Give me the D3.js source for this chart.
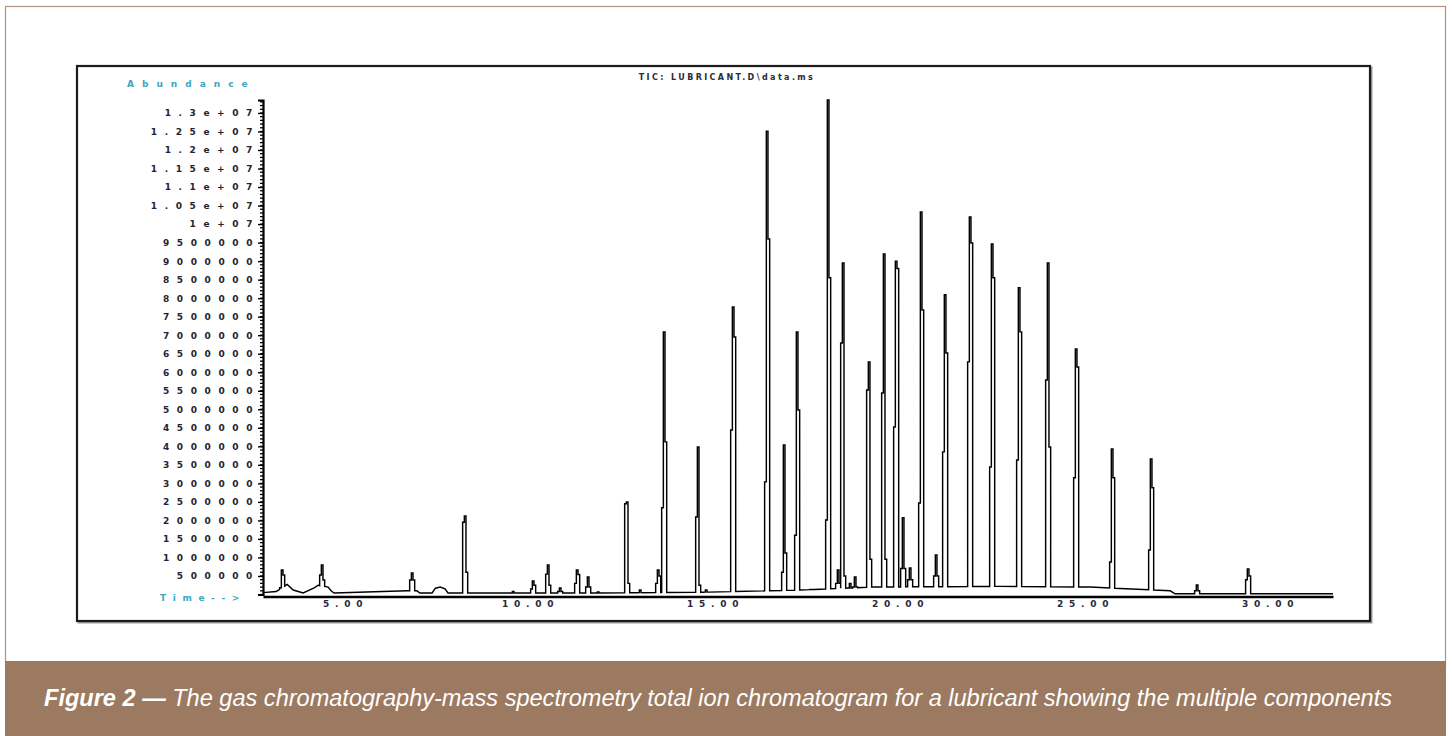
<!DOCTYPE html>
<html>
<head>
<meta charset="utf-8">
<script src="https://cdn.jsdelivr.net/npm/d3@7"></script>
<style>
  html, body { margin: 0; padding: 0; background: #ffffff; }
  svg { display: block; }
</style>
</head>
<body>
<svg id="chart" width="1452" height="736"></svg>
<script>
// ---------------- DATA ----------------
// Retention time (min) of each chromatographic peak
const peakTime = [3.378, 4.459, 6.892, 8.324, 9.622, 10.162, 10.568, 10.892, 11.351, 11.649,
  11.919, 12.703, 13.054, 13.541, 13.703, 14.622, 14.838, 15.568, 16.486, 16.946,
  17.297, 17.703, 18.135, 18.405, 18.541, 18.73, 18.865, 19.243, 19.649, 19.973,
  20.162, 20.351, 20.649, 21.054, 21.297, 21.973, 22.568, 23.297, 24.081, 24.838,
  25.811, 26.865, 28.108, 29.486];
// Apex abundance of each peak
const peakApex = [661000, 797000, 580000, 2120000, 80000, 365000, 797000, 175000, 661000, 472000,
  67000, 2500000, 120000, 660000, 7090000, 3980000, 120000, 7760000, 12510000, 4040000,
  7090000, 120000, 13350000, 660000, 8950000, 300000, 470000, 6280000, 9190000, 9000000,
  2070000, 715000, 10330000, 1070000, 8090000, 10190000, 9460000, 8280000, 8950000, 6630000,
  3930000, 3660000, 257000, 690000];
// Abundance of the scan just before the apex
const peakLeft = [150000, 527000, 390000, 1950000, 40000, 150000, 550000, 80000, 300000, 200000,
  30000, 2450000, 50000, 300000, 2340000, 2090000, 50000, 4440000, 3040000, 600000,
  1600000, 60000, 2010000, 300000, 6790000, 150000, 200000, 5520000, 5440000, 4520000,
  700000, 400000, 2470000, 500000, 3850000, 6280000, 3440000, 3630000, 5790000, 3150000,
  880000, 1200000, 100000, 400000];
// Abundance of the scan just after the apex
const peakRight = [527000, 392000, 390000, 600000, 40000, 250000, 250000, 80000, 540000, 200000,
  30000, 300000, 50000, 500000, 4120000, 250000, 50000, 6950000, 9600000, 1120000,
  4980000, 60000, 8550000, 300000, 500000, 150000, 200000, 950000, 950000, 8800000,
  700000, 400000, 7680000, 500000, 6520000, 9490000, 8550000, 7090000, 3980000, 6140000,
  3150000, 2880000, 100000, 500000];

// Baseline (including tailing of early peaks and small humps)
const baseTime  = [2.86, 3.216, 3.514, 3.676, 3.946, 4.243, 4.35, 4.62, 4.70, 4.78,
  6.76, 7.02, 7.10, 7.43, 7.52, 7.65, 7.78, 7.86, 11.97, 14.68,
  17.38, 19.27, 22.78, 25.22, 27.38, 27.51, 31.78];
const baseLevel = [50000, 80000, 270000, 120000, 40000, 180000, 250000, 200000, 100000, 40000,
  100000, 100000, 40000, 40000, 170000, 200000, 150000, 40000, 40000, 60000,
  120000, 200000, 220000, 200000, 100000, 20000, 20000];

// Axis ticks and labels
const yTickValues = [500000, 1000000, 1500000, 2000000, 2500000, 3000000, 3500000, 4000000,
  4500000, 5000000, 5500000, 6000000, 6500000, 7000000, 7500000, 8000000, 8500000, 9000000,
  9500000, 10000000, 10500000, 11000000, 11500000, 12000000, 12500000, 13000000];
const yTickLabels = ["500000", "1000000", "1500000", "2000000", "2500000", "3000000", "3500000", "4000000",
  "4500000", "5000000", "5500000", "6000000", "6500000", "7000000", "7500000", "8000000", "8500000", "9000000",
  "9500000", "1e+07", "1.05e+07", "1.1e+07", "1.15e+07", "1.2e+07", "1.25e+07", "1.3e+07"];
const xTickValues = [5, 10, 15, 20, 25, 30];
const xTickLabels = ["5.00", "10.00", "15.00", "20.00", "25.00", "30.00"];

const chartTitle = "TIC: LUBRICANT.D\\data.ms";
const yAxisTitle = "Abundance";
const xAxisTitle = "Time-->";
const captionBold = "Figure 2 \u2014";
const captionText = " The gas chromatography-mass spectrometry total ion chromatogram for a lubricant showing the multiple components";

// ---------------- DRAWING ----------------
const svg = d3.select("#chart");

// outer frame
svg.append("rect").attr("x", 5.5).attr("y", 6.5).attr("width", 1440).attr("height", 660)
  .attr("fill", "#ffffff").attr("stroke", "#b4937e").attr("stroke-width", 1.2);
// caption band
svg.append("rect").attr("x", 5).attr("y", 661).attr("width", 1441).attr("height", 75)
  .attr("fill", "#9c7a61");

// inner box with slight shadow
svg.append("rect").attr("x", 78.5).attr("y", 67.5).attr("width", 1293).attr("height", 555)
  .attr("fill", "none").attr("stroke", "#9a9a9a").attr("stroke-width", 2);
svg.append("rect").attr("x", 77).attr("y", 66).attr("width", 1293).attr("height", 555)
  .attr("fill", "#ffffff").attr("stroke", "#1c1c1c").attr("stroke-width", 2.2);

const x = d3.scaleLinear().domain([2.86, 31.78]).range([263, 1333]);
const y = d3.scaleLinear().domain([0, 13350000]).range([594.5, 100]);
const base = d3.scaleLinear().domain(baseTime).range(baseLevel).clamp(true);

// build trace (each peak drawn as scan steps: outer edges and a narrow apex scan)
const halfBase = 0.068, halfApex = 0.022;
const groups = [];
baseTime.forEach((t, i) => {
  const inside = peakTime.some(p => Math.abs(p - t) < halfBase * 1.1);
  if (!inside) groups.push({ t: t, pts: [[t, baseLevel[i]]] });
});
peakTime.forEach((tp, i) => {
  const b = base(tp);
  const hl = Math.max(b, peakLeft[i]), hr = Math.max(b, peakRight[i]), ha = Math.max(b, peakApex[i]);
  groups.push({ t: tp, pts: [
    [tp - halfBase, base(tp - halfBase)], [tp - halfBase, hl], [tp - halfApex, hl], [tp - halfApex, ha],
    [tp + halfApex, ha], [tp + halfApex, hr], [tp + halfBase, hr], [tp + halfBase, base(tp + halfBase)]
  ]});
});
groups.sort((a, b) => a.t - b.t);
const trace = groups.flatMap(g => g.pts);

const line = d3.line().x(d => x(d[0])).y(d => y(d[1]));

// y axis (major)
const yAxis = d3.axisLeft(y).tickValues(yTickValues)
  .tickFormat((d, i) => yTickLabels[i]).tickSize(5).tickPadding(6);
const gy = svg.append("g").attr("transform", "translate(263,0)").call(yAxis);
gy.select(".domain").attr("stroke", "#000").attr("stroke-width", 2.2);
gy.selectAll(".tick line").attr("stroke", "#000").attr("stroke-width", 1.4);
gy.selectAll(".tick text")
  .attr("font-family", "DejaVu Sans, sans-serif").attr("font-size", 9).attr("font-weight", "bold")
  .attr("letter-spacing", 7.6).attr("x", -3).attr("fill", "#23232f");
// minor ticks
const minor = d3.range(0, 13350001, 100000);
svg.append("g").selectAll("line").data(minor).join("line")
  .attr("x1", 260).attr("x2", 263).attr("y1", d => y(d)).attr("y2", d => y(d))
  .attr("stroke", "#000").attr("stroke-width", 1.3);

// x axis
const xAxis = d3.axisBottom(x).tickValues(xTickValues)
  .tickFormat((d, i) => xTickLabels[i]).tickSize(0).tickPadding(4);
const gx = svg.append("g").attr("transform", "translate(0,596.5)").call(xAxis);
gx.select(".domain").attr("stroke", "#000").attr("stroke-width", 2.6);
gx.selectAll(".tick text")
  .attr("font-family", "DejaVu Sans, sans-serif").attr("font-size", 9).attr("font-weight", "bold")
  .attr("letter-spacing", 5.8).attr("dx", 3).attr("fill", "#2a2a38");

// trace
svg.append("path").datum(trace).attr("d", line)
  .attr("fill", "none").attr("stroke", "#000").attr("stroke-width", 1.45)
  .attr("stroke-linejoin", "miter");

// titles
svg.append("text").attr("x", 127).attr("y", 87).text(yAxisTitle)
  .attr("font-family", "DejaVu Sans, sans-serif").attr("font-size", 9).attr("font-weight", "bold")
  .attr("letter-spacing", 8).attr("fill", "#3aa6bf");
svg.append("text").attr("x", 160).attr("y", 601).text(xAxisTitle)
  .attr("font-family", "DejaVu Sans, sans-serif").attr("font-size", 9).attr("font-weight", "bold")
  .attr("letter-spacing", 6.6).attr("fill", "#3aa6bf");
svg.append("text").attr("x", 727).attr("y", 80).attr("text-anchor", "middle").text(chartTitle)
  .attr("font-family", "DejaVu Sans, sans-serif").attr("font-size", 8).attr("font-weight", "bold")
  .attr("letter-spacing", 2.4).attr("fill", "#2a2a3a");

// caption
const cap = svg.append("text").attr("x", 44).attr("y", 706)
  .attr("font-family", "Liberation Sans, Arial, sans-serif").attr("font-style", "italic")
  .attr("font-size", 21).attr("fill", "#ffffff");
cap.append("tspan").attr("font-weight", "bold").text(captionBold);
cap.append("tspan").text(captionText);
const w = cap.node().getComputedTextLength();
cap.attr("font-size", 21 * 1349 / w);
</script>
</body>
</html>
